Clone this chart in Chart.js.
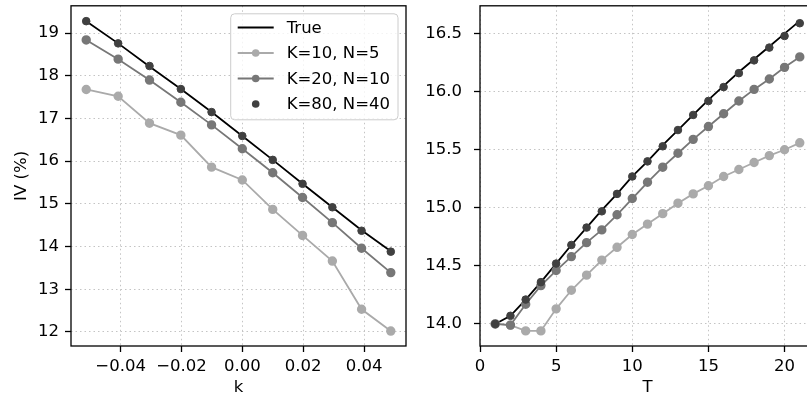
<!DOCTYPE html>
<html>
<head>
<meta charset="utf-8">
<script src="https://cdn.jsdelivr.net/npm/chart.js@4/dist/chart.umd.min.js"></script>
<style>
  html, body { margin: 0; padding: 0; background: #fff; overflow: hidden; width: 807px; height: 400px; }
  #left { position: absolute; left: 0; top: 0; }
  #right { position: absolute; left: 420px; top: 0; }
</style>
</head>
<body>
<canvas id="left" width="420" height="400"></canvas>
<canvas id="right" width="410" height="400"></canvas>
<script>
// left panel: IV against log-moneyness k
var kValues = [-0.0513, -0.0408, -0.0305, -0.0202, -0.0101, 0.0, 0.0100, 0.0198, 0.0296, 0.0392, 0.0488];
var ivTrueK = [19.28, 18.76, 18.22, 17.69, 17.15, 16.59, 16.03, 15.47, 14.92, 14.38, 13.89];
var iv10K   = [17.68, 17.52, 16.89, 16.61, 15.86, 15.56, 14.87, 14.26, 13.66, 12.53, 12.02];
var iv20K   = [18.84, 18.39, 17.90, 17.38, 16.85, 16.29, 15.73, 15.15, 14.56, 13.96, 13.39];
var iv80K   = [19.28, 18.76, 18.23, 17.69, 17.15, 16.59, 16.03, 15.47, 14.92, 14.37, 13.88];

// right panel: IV against maturity T
var tValues = [1, 2, 3, 4, 5, 6, 7, 8, 9, 10, 11, 12, 13, 14, 15, 16, 17, 18, 19, 20, 21];
var ivTrueT = [14.00, 14.07, 14.21, 14.36, 14.52, 14.68, 14.83, 14.98, 15.12, 15.27, 15.40, 15.54, 15.67, 15.80, 15.93, 16.05, 16.17, 16.28, 16.39, 16.50, 16.61];
var iv10T   = [14.00, 13.99, 13.94, 13.94, 14.13, 14.29, 14.42, 14.55, 14.66, 14.77, 14.86, 14.95, 15.04, 15.12, 15.19, 15.27, 15.33, 15.39, 15.45, 15.50, 15.56];
var iv20T   = [14.00, 13.99, 14.17, 14.33, 14.46, 14.58, 14.70, 14.81, 14.94, 15.08, 15.22, 15.35, 15.47, 15.59, 15.70, 15.81, 15.92, 16.02, 16.11, 16.21, 16.30];
var iv80T   = [14.00, 14.07, 14.21, 14.36, 14.52, 14.68, 14.83, 14.97, 15.12, 15.27, 15.40, 15.53, 15.67, 15.80, 15.92, 16.04, 16.16, 16.27, 16.38, 16.48, 16.59];

var seriesNames = ['True', 'K=10, N=5', 'K=20, N=10', 'K=80, N=40'];
var kTicks = [-0.04, -0.02, 0.0, 0.02, 0.04];

var FONT = '"DejaVu Sans", sans-serif';
var FS = 16.5;

function pts(xs, ys) {
  return xs.map(function(x, i) { return {x: x, y: ys[i]}; });
}

function makeDatasets(xs, t, a, b, c) {
  return [
    {label: seriesNames[0], data: pts(xs, t), borderColor: '#000', borderWidth: 1.8,
     pointRadius: 0, order: 3},
    {label: seriesNames[1], data: pts(xs, a), borderColor: '#aaaaaa', backgroundColor: '#aaaaaa',
     borderWidth: 1.8, pointRadius: 3.8, order: 2},
    {label: seriesNames[2], data: pts(xs, b), borderColor: '#777777', backgroundColor: '#777777',
     borderWidth: 1.8, pointRadius: 3.8, order: 1},
    {label: seriesNames[3], data: pts(xs, c), borderColor: '#404040', backgroundColor: '#404040',
     showLine: false, pointRadius: 3.8, order: 0}
  ];
}

// frame on all four sides plus a matplotlib style legend box
var framePlugin = {
  id: 'frame',
  afterDraw: function(chart, args, opts) {
    var ctx = chart.ctx, a = chart.chartArea;
    ctx.save();
    ctx.lineWidth = 1.3;
    ctx.strokeStyle = '#000';
    ctx.strokeRect(a.left, a.top, a.right - a.left, a.bottom - a.top);

    if (opts.legend) {
      ctx.font = FS + 'px ' + FONT;
      var sets = chart.data.datasets;
      var maxW = 0;
      sets.forEach(function(d) { maxW = Math.max(maxW, ctx.measureText(d.label).width); });
      var pad = 7, hLen = 36, gap = 13, rowH = 25.5;
      var w = pad + hLen + gap + maxW + 8;
      var h = rowH * sets.length + 4;
      var x0 = a.right - 8 - w, y0 = a.top + 8;
      ctx.beginPath();
      ctx.roundRect(x0, y0, w, h, 4);
      ctx.fillStyle = 'rgba(255,255,255,0.8)';
      ctx.fill();
      ctx.lineWidth = 1;
      ctx.strokeStyle = '#cccccc';
      ctx.stroke();
      sets.forEach(function(d, i) {
        var cy = y0 + 13.7 + i * rowH;
        if (d.showLine !== false) {
          ctx.beginPath();
          ctx.moveTo(x0 + pad, cy);
          ctx.lineTo(x0 + pad + hLen, cy);
          ctx.lineWidth = d.borderWidth;
          ctx.strokeStyle = d.borderColor;
          ctx.stroke();
        }
        if (d.pointRadius > 0) {
          ctx.beginPath();
          ctx.arc(x0 + pad + hLen / 2, cy, d.pointRadius, 0, Math.PI * 2);
          ctx.fillStyle = d.backgroundColor;
          ctx.fill();
        }
        ctx.fillStyle = '#000';
        ctx.textBaseline = 'middle';
        ctx.fillText(d.label, x0 + pad + hLen + gap, cy + 1);
      });
    }
    ctx.restore();
  }
};

function axis(opts) {
  var base = {
    type: 'linear',
    min: opts.min,
    max: opts.max,
    border: {display: false, dash: [1.5, 3]},
    grid: {color: '#c4c4c4', lineWidth: 1, tickLength: 6, tickColor: '#000', tickWidth: 1.3},
    ticks: {
      includeBounds: false,
      color: '#000',
      font: {family: FONT, size: FS},
      padding: opts.pad,
      maxRotation: 0,
      autoSkip: false,
      stepSize: opts.step,
      callback: opts.fmt
    },
    afterFit: function(s) {
      // fixed axis sizes, and no extra room for labels at the ends
      if (s.isHorizontal()) {
        s.height = opts.size;
        s.paddingLeft = 0;
        s.paddingRight = 0;
      } else {
        s.width = opts.size;
        s.paddingTop = 0;
        s.paddingBottom = 0;
      }
    }
  };
  if (opts.title) {
    base.title = {display: true, text: opts.title, color: '#000',
                  font: {family: FONT, size: FS}, padding: opts.titlePad};
  }
  if (opts.ticksList) {
    base.afterBuildTicks = function(scale) {
      scale.ticks = opts.ticksList.map(function(v) { return {value: v}; });
    };
  }
  return base;
}

function minusFmt(digits) {
  return function(v) {
    if (Math.abs(v) < 1e-9) v = 0;
    return v.toFixed(digits).replace('-', '\u2212');
  };
}

new Chart(document.getElementById('left'), {
  type: 'line',
  data: {datasets: makeDatasets(kValues, ivTrueK, iv10K, iv20K, iv80K)},
  options: {
    responsive: false,
    animation: false,
    layout: {padding: {left: 0, top: 4, right: 14, bottom: 0}},
    plugins: {legend: {display: false}, tooltip: {enabled: false}, frame: {legend: true}},
    scales: {
      x: axis({min: -0.0563, max: 0.0538, step: 0.02, pad: 5, fmt: minusFmt(2), ticksList: kTicks,
               title: 'k', titlePad: {top: 0, bottom: 2}, size: 54}),
      y: axis({min: 11.67, max: 19.64, step: 1, pad: 6, fmt: function(v) { return String(v); },
               title: 'IV (%)', titlePad: {top: 12, bottom: 0}, size: 71})
    }
  },
  plugins: [framePlugin]
});

new Chart(document.getElementById('right'), {
  type: 'line',
  data: {datasets: makeDatasets(tValues, ivTrueT, iv10T, iv20T, iv80T)},
  options: {
    responsive: false,
    animation: false,
    layout: {padding: {left: 0, top: 4, right: 15, bottom: 0}},
    plugins: {legend: {display: false}, tooltip: {enabled: false}, frame: {legend: false}},
    scales: {
      x: axis({min: 0, max: 22, step: 5, pad: 5, fmt: function(v) { return String(v); },
               title: 'T', titlePad: {top: 0, bottom: 2}, size: 54}),
      y: axis({min: 13.81, max: 16.74, step: 0.5, pad: 12, fmt: minusFmt(1), size: 60})
    }
  },
  plugins: [framePlugin]
});
</script>
</body>
</html>
